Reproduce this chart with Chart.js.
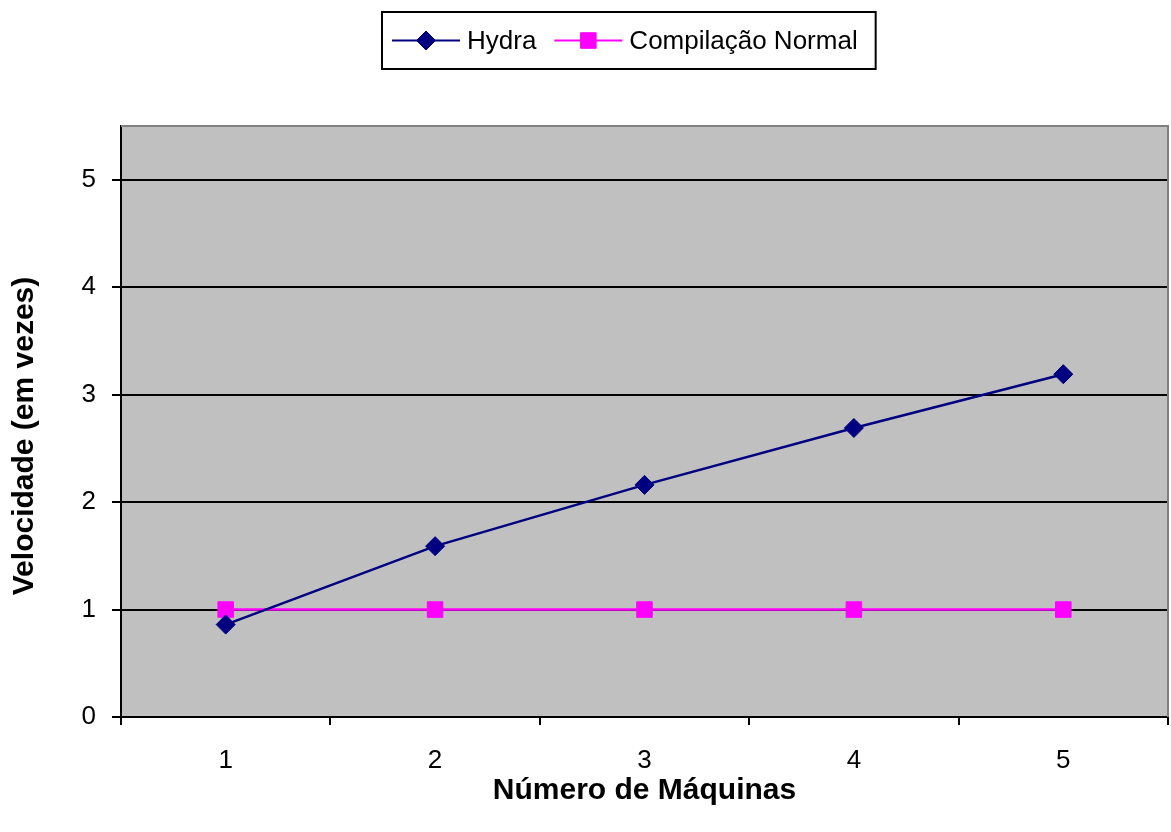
<!DOCTYPE html>
<html>
<head>
<meta charset="utf-8">
<title>Velocidade vs Número de Máquinas</title>
<script src="https://cdn.jsdelivr.net/npm/chart.js@4/dist/chart.umd.min.js"></script>
<style>
  html, body { margin: 0; padding: 0; background: #ffffff; }
  #wrap { width: 1171px; height: 832px; }
</style>
</head>
<body>
<div id="wrap"><canvas id="chart" width="1171" height="832"></canvas></div>
<script>
// Number of machines on the x axis
const maquinas = ['1', '2', '3', '4', '5'];
// Speed-up (times) of the distributed build
const hydra = [0.86, 1.59, 2.16, 2.69, 3.19];
// Normal build baseline
const compilacaoNormal = [1, 1, 1, 1, 1];
// Y axis range and tick spacing
const yMin = 0;
const yMax = 5.5;
const yStep = 1;

const xTitle = 'Número de Máquinas';
const yTitle = 'Velocidade (em vezes)';

const FONT = '"Liberation Sans", Arial, sans-serif';

// Grey plot area with a soft grey frame on the top and right
const plotArea = {
  id: 'plotArea',
  beforeDraw(chart) {
    const { ctx, chartArea: a } = chart;
    ctx.save();
    ctx.fillStyle = '#c0c0c0';
    ctx.fillRect(a.left, a.top, a.right - a.left, a.bottom - a.top);
    ctx.restore();
  },
  afterDraw(chart) {
    const { ctx, chartArea: a } = chart;
    ctx.save();
    ctx.strokeStyle = '#808080';
    ctx.lineWidth = 2;
    ctx.beginPath();
    ctx.moveTo(a.left, a.top);
    ctx.lineTo(a.right, a.top);
    ctx.lineTo(a.right, a.bottom);
    ctx.stroke();
    ctx.restore();
  }
};

// Vertical axis title
const yAxisTitle = {
  id: 'yAxisTitle',
  afterDraw(chart) {
    const { ctx } = chart;
    ctx.save();
    ctx.translate(25, 436);
    ctx.rotate(-Math.PI / 2);
    ctx.font = 'bold 30px ' + FONT;
    ctx.fillStyle = '#000';
    ctx.textAlign = 'center';
    ctx.textBaseline = 'middle';
    ctx.fillText(yTitle, 0, 0);
    ctx.restore();
  }
};

// Framed legend: line sample with marker, then the series name
const framedLegend = {
  id: 'framedLegend',
  afterDraw(chart) {
    const { ctx } = chart;
    const sets = chart.data.datasets;
    ctx.save();
    ctx.font = '26px ' + FONT;
    const lineLen = 68, padL = 10, gapText = 7, gapItem = 18, padR = 18;
    let total = padL + padR;
    sets.forEach((ds, i) => {
      total += lineLen + gapText + ctx.measureText(ds.label).width;
      if (i < sets.length - 1) total += gapItem;
    });
    const cx = 629, top = 12, h = 57;
    const left = Math.round(cx - total / 2);
    ctx.strokeStyle = '#000';
    ctx.lineWidth = 2;
    ctx.strokeRect(left, top, total, h);
    const yMid = top + h / 2;
    let x = left + padL;
    sets.forEach((ds) => {
      ctx.strokeStyle = ds.borderColor;
      ctx.lineWidth = 2;
      ctx.beginPath();
      ctx.moveTo(x, yMid);
      ctx.lineTo(x + lineLen, yMid);
      ctx.stroke();
      ctx.fillStyle = ds.pointBackgroundColor;
      ctx.strokeStyle = ds.pointBorderColor;
      ctx.lineWidth = 1;
      Chart.helpers.drawPoint(ctx, {
        pointStyle: ds.pointStyle,
        radius: ds.pointRadius,
        borderWidth: 1
      }, x + lineLen / 2, yMid);
      ctx.fillStyle = '#000';
      ctx.textAlign = 'left';
      ctx.textBaseline = 'middle';
      ctx.fillText(ds.label, x + lineLen + gapText, yMid + 1);
      x += lineLen + gapText + ctx.measureText(ds.label).width + gapItem;
    });
    ctx.restore();
  }
};

new Chart(document.getElementById('chart'), {
  type: 'line',
  data: {
    labels: maquinas,
    datasets: [
      {
        label: 'Hydra',
        data: hydra,
        borderColor: '#000080',
        backgroundColor: '#000080',
        borderWidth: 2.5,
        pointStyle: 'rectRot',
        pointRadius: 9.5,
        pointBackgroundColor: '#000080',
        pointBorderColor: '#000080',
        pointBorderWidth: 1,
        tension: 0
      },
      {
        label: 'Compilação Normal',
        data: compilacaoNormal,
        borderColor: '#ff00ff',
        backgroundColor: '#ff00ff',
        borderWidth: 2.5,
        pointStyle: 'rect',
        pointRadius: 11,
        pointBackgroundColor: '#ff00ff',
        pointBorderColor: '#ff00ff',
        pointBorderWidth: 1,
        tension: 0
      }
    ]
  },
  options: {
    responsive: false,
    devicePixelRatio: 1,
    animation: false,
    layout: { autoPadding: false, padding: { top: 126, right: 3, left: 0, bottom: 0 } },
    plugins: {
      legend: { display: false },
      tooltip: { enabled: false }
    },
    scales: {
      x: {
        type: 'category',
        offset: true,
        grid: {
          offset: true,
          drawOnChartArea: false,
          drawTicks: true,
          tickLength: 8,
          color: '#000',
          lineWidth: 2
        },
        border: { display: true, color: '#000', width: 2 },
        ticks: {
          color: '#000',
          font: { family: FONT, size: 26 },
          padding: 20
        },
        title: {
          display: true,
          text: xTitle,
          color: '#000',
          font: { family: FONT, size: 30, weight: 'bold' },
          padding: { top: 0, bottom: 23 }
        },
        afterFit(scale) { scale.height = 115; }
      },
      y: {
        min: yMin,
        max: yMax,
        grid: {
          color: '#000',
          lineWidth: 2,
          tickLength: 9,
          drawTicks: true
        },
        border: { display: true, color: '#000', width: 2 },
        ticks: {
          stepSize: yStep,
          includeBounds: false,
          color: '#000',
          font: { family: FONT, size: 26 },
          padding: 16
        },
        afterFit(scale) { scale.width = 121; }
      }
    }
  },
  plugins: [plotArea, yAxisTitle, framedLegend]
});
</script>
</body>
</html>
